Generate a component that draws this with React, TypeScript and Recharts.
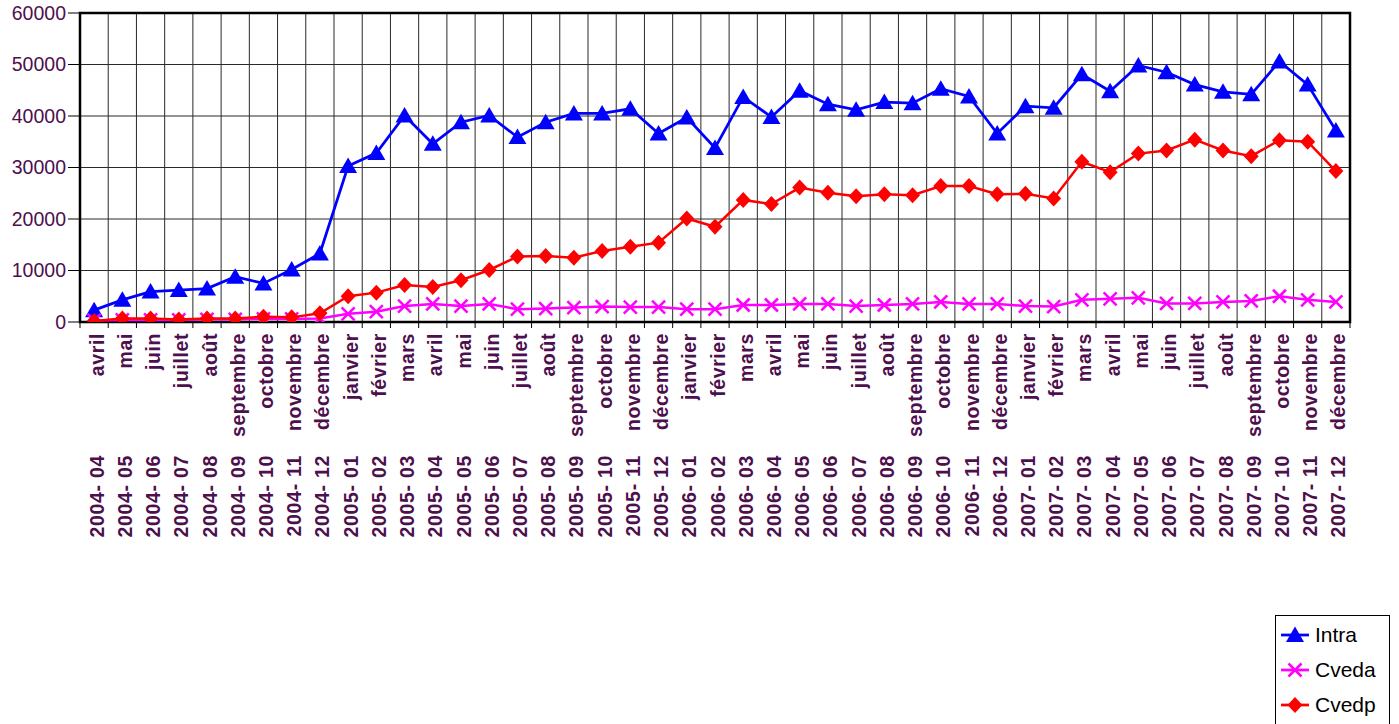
import React from 'react';
import { LineChart, Line, XAxis, YAxis, CartesianGrid, Legend, ReferenceArea } from 'recharts';

const monthNames = [
  'avril', 'mai', 'juin', 'juillet', 'août', 'septembre', 'octobre', 'novembre', 'décembre',
  'janvier', 'février', 'mars', 'avril', 'mai', 'juin', 'juillet', 'août', 'septembre', 'octobre', 'novembre', 'décembre',
  'janvier', 'février', 'mars', 'avril', 'mai', 'juin', 'juillet', 'août', 'septembre', 'octobre', 'novembre', 'décembre',
  'janvier', 'février', 'mars', 'avril', 'mai', 'juin', 'juillet', 'août', 'septembre', 'octobre', 'novembre', 'décembre',
];

const periods = [
  '2004- 04', '2004- 05', '2004- 06', '2004- 07', '2004- 08', '2004- 09', '2004- 10', '2004- 11', '2004- 12',
  '2005- 01', '2005- 02', '2005- 03', '2005- 04', '2005- 05', '2005- 06', '2005- 07', '2005- 08', '2005- 09', '2005- 10', '2005- 11', '2005- 12',
  '2006- 01', '2006- 02', '2006- 03', '2006- 04', '2006- 05', '2006- 06', '2006- 07', '2006- 08', '2006- 09', '2006- 10', '2006- 11', '2006- 12',
  '2007- 01', '2007- 02', '2007- 03', '2007- 04', '2007- 05', '2007- 06', '2007- 07', '2007- 08', '2007- 09', '2007- 10', '2007- 11', '2007- 12',
];

const intra = [
  2300, 4300, 5900, 6200, 6500, 8800, 7500, 10200, 13300,
  30300, 32800, 40100, 34600, 38800, 40100, 35900, 38800, 40500, 40500, 41400, 36600,
  39700, 33800, 43700, 39800, 44900, 42300, 41200, 42700, 42500, 45300, 43800, 36600,
  41900, 41600, 48100, 44800, 49800, 48500, 46100, 44700, 44200, 50600, 46100, 37200,
];

const cveda = [
  300, 400, 400, 400, 500, 500, 600, 600, 700,
  1600, 2000, 3100, 3500, 3100, 3500, 2500, 2600, 2800, 3000, 2900, 2900,
  2500, 2500, 3300, 3300, 3500, 3500, 3100, 3300, 3500, 3900, 3500, 3500,
  3100, 3000, 4300, 4500, 4700, 3600, 3600, 3900, 4100, 5000, 4300, 3900,
];

const cvedp = [
  200, 700, 700, 500, 700, 700, 1000, 900, 1700,
  5000, 5700, 7200, 6800, 8100, 10100, 12700, 12800, 12500, 13800, 14600, 15400,
  20100, 18500, 23700, 22900, 26100, 25100, 24400, 24800, 24600, 26400, 26400, 24800,
  24900, 24000, 31100, 29100, 32700, 33300, 35400, 33300, 32200, 35300, 35000, 29300,
];

const seriesOrder = ['Intra', 'Cveda', 'Cvedp'];
const yTicks = [0, 10000, 20000, 30000, 40000, 50000, 60000];

const data = periods.map((p, i) => ({ i, period: p, month: monthNames[i], Intra: intra[i], Cveda: cveda[i], Cvedp: cvedp[i] }));
const centers = data.map((d) => d.i);
const boundaries = [-0.5, ...centers.map((c) => c + 0.5)];
const xTicks = [...boundaries, ...centers].sort((a, b) => a - b);

const TEXT = '#4D0F4D';
const FONT = '"Liberation Sans", Arial, sans-serif';

const BLUE = '#0000FF';
const MAGENTA = '#FF00FF';
const RED = '#FF0000';

function Tri({ cx, cy, color = BLUE }: any) {
  return <polygon points={`${cx},${cy - 8.5} ${cx - 9},${cy + 7} ${cx + 9},${cy + 7}`} fill={color} />;
}
function Cross({ cx, cy, color = MAGENTA }: any) {
  const s = 6.5;
  return (
    <g stroke={color} strokeWidth={2.5}>
      <line x1={cx - s} y1={cy - s} x2={cx + s} y2={cy + s} />
      <line x1={cx - s} y1={cy + s} x2={cx + s} y2={cy - s} />
    </g>
  );
}
function Diamond({ cx, cy, color = RED }: any) {
  return <polygon points={`${cx},${cy - 8} ${cx + 7.5},${cy} ${cx},${cy + 8} ${cx - 7.5},${cy}`} fill={color} />;
}

function XTick(props: any) {
  const { x, y, payload } = props;
  const v = payload.value;
  if (!Number.isInteger(v)) {
    return <line x1={x} y1={y} x2={x} y2={y + 6} stroke="#000" strokeWidth={1} />;
  }
  const y1 = y + 11;
  const y2 = y + 133;
  return (
    <g>
      <text x={x} y={y1} dy={9.5} transform={`rotate(-90 ${x} ${y1})`} textAnchor="end" fontFamily={FONT} fontWeight="bold" fontSize={19.5} letterSpacing={0.6} fill={TEXT}>
        {monthNames[v]}
      </text>
      <text x={x} y={y2} dy={9.5} transform={`rotate(-90 ${x} ${y2})`} textAnchor="end" fontFamily={FONT} fontWeight="bold" fontSize={19.5} letterSpacing={0.7} fill={TEXT}>
        {periods[v]}
      </text>
    </g>
  );
}

function LegendBox(props: any) {
  const payload = [...(props.payload || [])].sort(
    (a: any, b: any) => seriesOrder.indexOf(a.dataKey) - seriesOrder.indexOf(b.dataKey)
  );
  return (
    <div style={{ border: '1px solid #000', width: 115, height: 112, boxSizing: 'border-box', background: '#fff', fontFamily: FONT, fontSize: 21, color: '#000' }}>
      {payload.map((entry: any, k: number) => {
        const key = entry.dataKey;
        const color = entry.color;
        return (
          <div key={key} style={{ position: 'absolute', left: 0, top: 5 + k * 35, height: 30, display: 'flex', alignItems: 'center' }}>
            <svg width={38} height={30} style={{ display: 'block' }}>
              <line x1={6} y1={15} x2={34} y2={15} stroke={color} strokeWidth={2.75} />
              {key === 'Intra' && <Tri cx={20} cy={15} color={color} />}
              {key === 'Cveda' && <Cross cx={20} cy={15} color={color} />}
              {key === 'Cvedp' && <Diamond cx={20} cy={15} color={color} />}
            </svg>
            <span style={{ marginLeft: 2 }}>{entry.value}</span>
          </div>
        );
      })}
    </div>
  );
}

export default function App() {
  return (
    <div style={{ position: 'absolute', left: 0, top: 0, width: 1399, height: 724, overflow: 'hidden', background: '#fff' }}>
      <LineChart width={1399} height={724} data={data} margin={{ top: 13, right: 49, left: 20, bottom: 172 }}>
        <CartesianGrid stroke="#2a2a2a" strokeWidth={1} verticalValues={boundaries} horizontalValues={yTicks} />
        <XAxis
          dataKey="i"
          type="number"
          domain={[-0.5, 44.5]}
          ticks={xTicks}
          interval={0}
          height={230}
          tickSize={0}
          tickMargin={0}
          tickLine={false}
          axisLine={false}
          tick={<XTick />}
          allowDataOverflow
        />
        <YAxis
          width={60}
          domain={[0, 60000]}
          ticks={yTicks}
          interval={0}
          tickSize={12}
          tickMargin={2}
          axisLine={false}
          tickLine={{ stroke: '#000', strokeWidth: 1 }}
          tick={{ fill: TEXT, fontFamily: FONT, fontSize: 19.5 }}
          allowDataOverflow
        />
        <ReferenceArea x1={-0.5} x2={44.5} y1={0} y2={60000} fill="none" stroke="#000" strokeWidth={2.5} ifOverflow="visible" />
        <Line type="linear" dataKey="Intra" stroke={BLUE} strokeWidth={2.75} isAnimationActive={false}
          dot={(p: any) => <Tri key={`t${p.index}`} cx={p.cx} cy={p.cy} />} activeDot={false} />
        <Line type="linear" dataKey="Cveda" stroke={MAGENTA} strokeWidth={2.5} isAnimationActive={false}
          dot={(p: any) => <Cross key={`c${p.index}`} cx={p.cx} cy={p.cy} />} activeDot={false} />
        <Line type="linear" dataKey="Cvedp" stroke={RED} strokeWidth={2.5} isAnimationActive={false}
          dot={(p: any) => <Diamond key={`d${p.index}`} cx={p.cx} cy={p.cy} />} activeDot={false} />
        <Legend
          layout="vertical"
          align="center"
          verticalAlign="middle"
          content={<LegendBox />}
          wrapperStyle={{ left: 1275, top: 615, right: 'auto', bottom: 'auto', width: 115, height: 112 }}
        />
      </LineChart>
    </div>
  );
}
